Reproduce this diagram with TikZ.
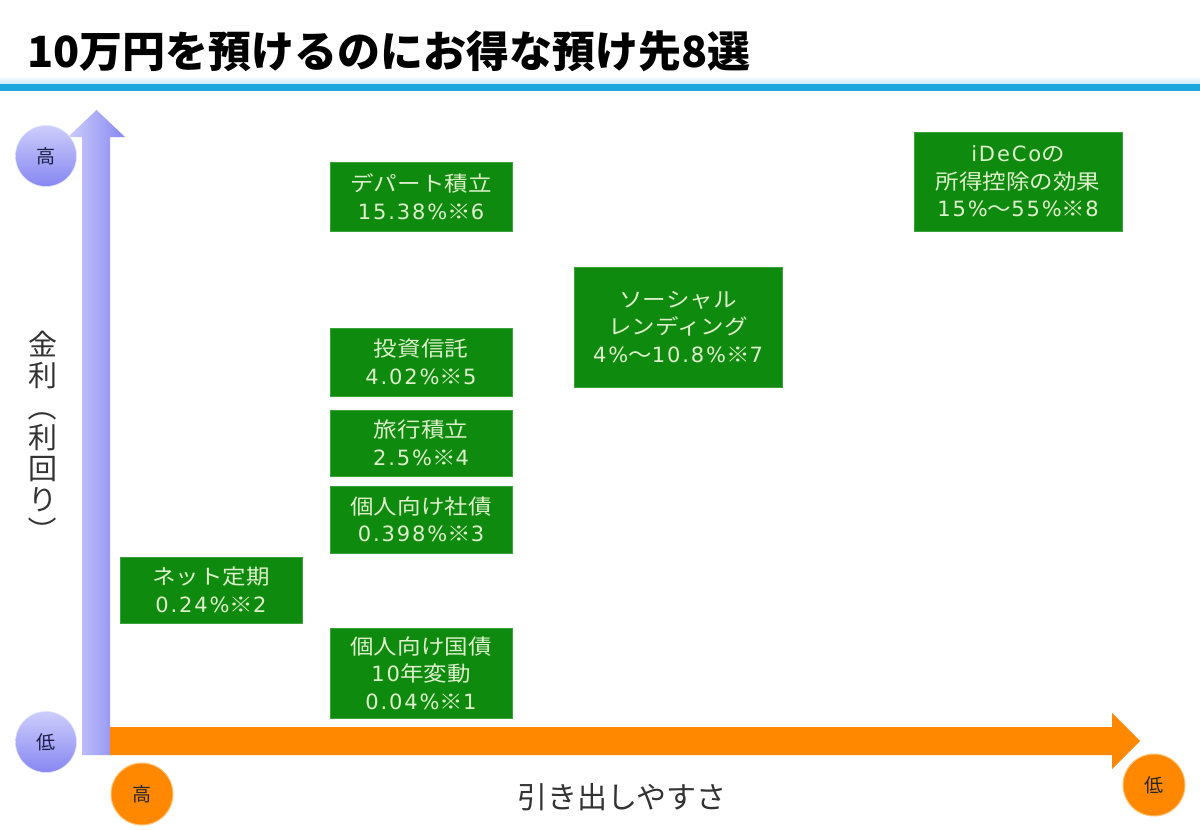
\documentclass[tikz,border=0pt]{standalone}
\usepackage{fontspec}
\setmainfont{Noto Sans CJK JP}
\newfontfamily\boxcjk{Noto Sans CJK JP}[FakeStretch=1.12]
\newfontfamily\boxlatfont{DejaVu Sans}[LetterSpace=9]
\newcommand{\bl}[1]{{\boxlatfont #1}}
\definecolor{boxgreen}{RGB}{14,138,14}
\definecolor{boxedge}{RGB}{60,160,60}
\definecolor{boxtext}{RGB}{222,240,204}
\definecolor{lineblue}{RGB}{28,168,222}
\definecolor{orng}{RGB}{255,136,0}
\definecolor{orngedge}{RGB}{255,196,120}
\definecolor{lavlight}{RGB}{205,205,252}
\definecolor{lavdark}{RGB}{135,135,242}
\definecolor{navytext}{RGB}{30,30,70}
\begin{document}
\begin{tikzpicture}[x=1pt,y=-1pt,
  gbox/.style={fill=boxgreen, draw=boxedge, line width=0.8pt, text=boxtext,
    font=\boxcjk\fontsize{21}{27.5}\selectfont, align=center, inner sep=0pt},
  lavcirc/.style={circle, minimum size=61pt, inner sep=0pt, top color=lavlight, bottom color=lavdark,
    draw=lavlight!60!white, line width=0.6pt, text=navytext, font=\fontsize{19}{19}\selectfont},
  orcirc/.style={circle, minimum size=62pt, inner sep=0pt, fill=orng,
    draw=orngedge, line width=1pt, text=black!85, font=\fontsize{19}{19}\selectfont},
  axlabel/.style={text=black!80, inner sep=0pt}
]
\useasboundingbox (0,0) rectangle (1200,830);
\fill[white] (0,0) rectangle (1200,830);
% title
\node[anchor=west, inner sep=0pt, font=\fontsize{43}{43}\selectfont\bfseries] (title) at (27,51) {10万円を預けるのにお得な預け先8選};
% blue rule
\shade[top color=white, bottom color=lineblue!25] (0,76) rectangle (1200,84);
\fill[lineblue] (0,84) rectangle (1200,91);
% vertical arrow
\shade[left color=lavlight, right color=lavdark]
  (82,755) -- (82,137) -- (68,137) -- (96.5,110) -- (125,137) -- (110,137) -- (110,755) -- cycle;
% horizontal arrow
\fill[orng] (110,727) -- (1112,727) -- (1112,713) -- (1140,741) -- (1112,769) -- (1112,755) -- (110,755) -- cycle;
% circles
\node[lavcirc] (vhigh) at (46,156) {高};
\node[lavcirc] (vlow) at (46,742) {低};
\node[orcirc] (hhigh) at (142,794) {高};
\node[orcirc] (hlow) at (1154,785) {低};
% axis labels
\node[axlabel, font=\fontsize{29}{31}\selectfont, align=center, anchor=north] (ylab) at (43,331)
  {金\\利\\\rotatebox[origin=c]{-90}{（}\\利\\回\\り\\\rotatebox[origin=c]{-90}{）}};
\node[axlabel, font=\fontsize{30}{30}\selectfont] (xlab) at (622,797) {引き出しやすさ};
% boxes
\node[gbox, minimum width=182pt, minimum height=69pt] (dept) at (421,196.5) {デパート積立\\\bl{15.38\%}※\bl{6}};
\node[gbox, minimum width=208pt, minimum height=99pt] (ideco) at (1018,181.5) {\bl{iDeCo}の\\所得控除の効果\\\bl{15\%}～\bl{55\%}※\bl{8}};
\node[gbox, minimum width=208pt, minimum height=120pt] (social) at (678,327) {ソーシャル\\レンディング\\\bl{4\%}～\bl{10.8\%}※\bl{7}};
\node[gbox, minimum width=182pt, minimum height=68pt] (toshin) at (421,362) {投資信託\\\bl{4.02\%}※\bl{5}};
\node[gbox, minimum width=182pt, minimum height=66pt] (ryoko) at (421,443) {旅行積立\\\bl{2.5\%}※\bl{4}};
\node[gbox, minimum width=182pt, minimum height=67pt] (shasai) at (421,519.5) {個人向け社債\\\bl{0.398\%}※\bl{3}};
\node[gbox, minimum width=182pt, minimum height=66pt] (net) at (211,590) {ネット定期\\\bl{0.24\%}※\bl{2}};
\node[gbox, minimum width=182pt, minimum height=90pt] (kokusai) at (421,673) {個人向け国債\\\bl{10}年変動\\\bl{0.04\%}※\bl{1}};
\end{tikzpicture}
\end{document}
